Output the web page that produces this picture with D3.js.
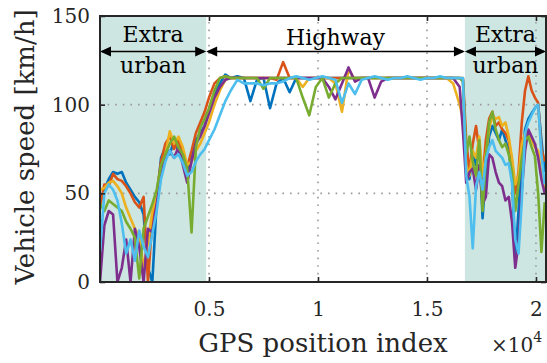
<!DOCTYPE html>
<html>
<head>
<meta charset="utf-8">
<script src="https://cdn.jsdelivr.net/npm/d3@7"></script>
<style>
  body { margin: 0; background: #fff; }
  svg { display: block; font-family: "DejaVu Serif", serif; }
</style>
</head>
<body>
<div id="chart"></div>
<script>
// GPS position index (shared by all drives)
const xIndex = [
  0, 200, 400, 600, 800, 1000, 1200, 1400, 1600, 1800, 2000, 2200, 2400, 2600, 2800, 3000,
  3200, 3400, 3600, 3800, 4000, 4200, 4400, 4600, 4800,
  5000, 5250, 5500, 5750,
  6000, 6300, 6600, 6900, 7200, 7500, 7800, 8100, 8400, 8700, 9000, 9300, 9600, 9900,
  10200, 10500, 10800, 11100, 11400, 11700, 12000, 12300, 12600, 12900, 13200, 13500,
  13800, 14100, 14400, 14700, 15000, 15300, 15600, 15900, 16200, 16500,
  16650, 16800, 16950, 17100, 17250, 17400, 17550, 17700, 17850, 18000, 18150, 18300,
  18450, 18600, 18750, 18900, 19050, 19200, 19350, 19500, 19650, 19800, 19950, 20100,
  20250, 20400
];

// vehicle speed [km/h], one array per drive
const drive1 = [
  45, 52, 58, 62, 61, 62, 56, 52, 48, 45, 38, 8, 0, 45, 70, 76, 72, 80, 74, 70, 62, 70, 80, 84, 88,
  96, 106, 112, 117,
  115, 116, 115, 102, 114, 115, 98, 112, 115, 107, 115, 115, 115, 115, 115, 115, 115, 115,
  115, 115, 115, 115, 115, 115, 115, 115, 115, 115, 115, 115, 115, 115, 115, 115, 115, 115,
  114, 70, 58, 72, 66, 78, 36, 62, 82, 88, 84, 80, 86, 80, 74, 60, 12, 40, 70, 86, 92, 95,
  98, 100, 80, 62
];
const drive2 = [
  42, 55, 54, 61, 58, 57, 54, 50, 45, 42, 48, 0, 35, 50, 68, 78, 82, 75, 80, 72, 65, 74, 84, 90, 96,
  104, 112, 115, 116,
  115, 115, 115, 115, 115, 115, 115, 114, 124, 115, 115, 115, 115, 115, 115, 115, 115, 115,
  115, 115, 115, 115, 115, 115, 115, 115, 115, 115, 115, 115, 115, 115, 115, 115, 115, 115,
  115, 80, 62, 78, 88, 74, 58, 80, 92, 96, 88, 90, 86, 84, 80, 68, 50, 62, 90, 108, 116, 108,
  104, 101, 75, 68
];
const drive3 = [
  52, 53, 56, 57, 54, 50, 42, 36, 30, 26, 8, 22, 40, 48, 64, 72, 85, 78, 82, 76, 66, 68, 74, 78, 84,
  90, 100, 108, 114,
  115, 115, 115, 115, 115, 115, 115, 115, 115, 115, 115, 110, 115, 115, 115, 115, 112, 96,
  120, 114, 115, 115, 115, 115, 115, 115, 115, 115, 115, 115, 115, 115, 115, 115, 112, 100,
  92, 66, 60, 74, 70, 82, 60, 72, 86, 94, 92, 93, 88, 90, 82, 70, 55, 60, 78, 84, 84, 80,
  76, 74, 60, 52
];
const drive4 = [
  0, 32, 40, 38, 0, 8, 24, 0, 30, 20, 0, 30, 28, 44, 60, 70, 74, 70, 76, 66, 56, 68, 78, 82, 88,
  95, 104, 110, 114,
  115, 115, 115, 115, 115, 115, 115, 115, 115, 115, 115, 115, 115, 115, 115, 110, 103, 112,
  121, 113, 115, 115, 104, 113, 115, 115, 115, 115, 115, 115, 115, 115, 115, 115, 115, 110,
  85, 56, 62, 64, 52, 66, 44, 48, 72, 70, 62, 56, 54, 46, 48, 34, 8, 22, 52, 74, 86, 82,
  78, 70, 58, 50
];
const drive5 = [
  44, 40, 46, 44, 42, 40, 34, 30, 25, 2, 30, 37, 44, 52, 66, 72, 78, 82, 76, 72, 64, 28, 76, 87, 92,
  98, 108, 115, 116,
  115, 115, 115, 115, 115, 109, 115, 115, 115, 115, 115, 104, 94, 110, 115, 104, 112, 115,
  115, 115, 115, 115, 115, 115, 115, 115, 115, 115, 115, 115, 115, 115, 115, 115, 115, 115,
  113, 72, 82, 68, 60, 80, 40, 70, 90, 96, 86, 80, 76, 78, 72, 62, 40, 55, 70, 80, 82, 76,
  71, 50, 17, 45
];
const drive6 = [
  17, 50, 55, 52, 46, 33, 16, 24, 12, 29, 20, 14, 27, 40, 58, 68, 74, 70, 72, 67, 60, 62, 68, 72, 75,
  80, 86, 94, 102,
  108, 114, 112, 112, 112, 111, 112, 112, 113, 115, 116, 115, 114, 115, 116, 115, 114, 101,
  112, 106, 114, 115, 116, 115, 114, 115, 115, 116, 115, 114, 115, 115, 116, 115, 115, 115,
  115, 60, 48, 19, 54, 62, 52, 69, 76, 80, 74, 72, 70, 66, 67, 56, 24, 16, 46, 84, 90, 94,
  98, 100, 72, 55
];
const drives = [drive1, drive2, drive3, drive4, drive5, drive6];
const driveColors = ['#0072BD', '#D95319', '#EDB120', '#7E2F8E', '#77AC30', '#4DBEEE'];

// road segments along the route
const segments = [
  { label: ['Extra', 'urban'], start: 0, end: 4870, shaded: true },
  { label: ['Highway'], start: 4870, end: 16740, shaded: false },
  { label: ['Extra', 'urban'], start: 16740, end: 20460, shaded: true }
];

const xTicks = [5000, 10000, 15000, 20000];
const yTicks = [0, 50, 100, 150];

const dims = { width: 547, height: 363 };
const margins = { left: 100, right: 1, top: 16, bottom: 81 };
const axisColor = '#262626';

const svg = d3.select('div#chart')
  .append('svg')
  .attr('width', dims.width)
  .attr('height', dims.height)
  .attr('viewBox', [0, 0, dims.width, dims.height]);

const xScale = d3.scaleLinear()
  .domain([0, 20460])
  .range([margins.left, dims.width - margins.right]);

const yScale = d3.scaleLinear()
  .domain([0, 150])
  .range([dims.height - margins.bottom, margins.top]);

const [x0, x1] = xScale.range();
const [y0, y1] = yScale.range();

svg.append('clipPath').attr('id', 'plot-clip')
  .append('rect')
  .attr('x', x0).attr('y', y1)
  .attr('width', x1 - x0).attr('height', y0 - y1);

// shaded extra urban regions
svg.append('g')
  .selectAll('rect')
  .data(segments.filter(s => s.shaded))
  .join('rect')
  .attr('x', s => xScale(s.start))
  .attr('y', y1)
  .attr('width', s => xScale(s.end) - xScale(s.start))
  .attr('height', y0 - y1)
  .attr('fill', '#cde6e1');

// dotted grid
const grid = svg.append('g')
  .attr('stroke', '#9a9a9a')
  .attr('stroke-width', 1.6)
  .attr('stroke-dasharray', '1.6,6');
grid.selectAll('line.gx')
  .data(xTicks)
  .join('line')
  .attr('class', 'gx')
  .attr('x1', d => xScale(d)).attr('x2', d => xScale(d))
  .attr('y1', y0).attr('y2', y1);
grid.selectAll('line.gy')
  .data(yTicks.filter(d => d > 0 && d < 150))
  .join('line')
  .attr('class', 'gy')
  .attr('x1', x0).attr('x2', x1)
  .attr('y1', d => yScale(d)).attr('y2', d => yScale(d));

// speed traces
const line = d3.line()
  .x((d, i) => xScale(xIndex[i]))
  .y(d => yScale(d));

svg.append('g')
  .attr('clip-path', 'url(#plot-clip)')
  .selectAll('path')
  .data(drives)
  .join('path')
  .attr('d', d => line(d))
  .attr('fill', 'none')
  .attr('stroke', (d, i) => driveColors[i])
  .attr('stroke-width', 2.6)
  .attr('stroke-linejoin', 'round');

// segment arrows and labels
const arrowY = yScale(130);
const headLen = 11, headHalf = 5;
const arrows = svg.append('g');
segments.forEach(s => {
  const a = xScale(s.start), b = xScale(s.end);
  arrows.append('line')
    .attr('x1', a + 2).attr('x2', b - 2)
    .attr('y1', arrowY).attr('y2', arrowY)
    .attr('stroke', '#000').attr('stroke-width', 1.6);
  arrows.append('path')
    .attr('d', `M${a},${arrowY}L${a + headLen},${arrowY - headHalf}L${a + headLen},${arrowY + headHalf}Z`)
    .attr('fill', '#000');
  arrows.append('path')
    .attr('d', `M${b},${arrowY}L${b - headLen},${arrowY - headHalf}L${b - headLen},${arrowY + headHalf}Z`)
    .attr('fill', '#000');
  const cx = (a + b) / 2;
  if (s.label.length == 2) {
    arrows.append('text').attr('x', cx).attr('y', 42).text(s.label[0]);
    arrows.append('text').attr('x', cx).attr('y', 73).text(s.label[1]);
  } else {
    arrows.append('text').attr('x', cx).attr('y', 45).text(s.label[0]);
  }
});
arrows.selectAll('text')
  .attr('text-anchor', 'middle')
  .attr('font-size', 22)
  .attr('fill', '#000');

// axes
const xAxis = svg.append('g')
  .attr('transform', `translate(0,${y0})`)
  .call(d3.axisBottom(xScale).tickValues(xTicks).tickSize(-5).tickPadding(20)
    .tickFormat(d => d / 1e4));
const xAxisTop = svg.append('g')
  .attr('transform', `translate(0,${y1})`)
  .call(d3.axisTop(xScale).tickValues(xTicks).tickSize(-5).tickFormat(''));
const yAxis = svg.append('g')
  .attr('transform', `translate(${x0},0)`)
  .call(d3.axisLeft(yScale).tickValues(yTicks).tickSize(-5).tickPadding(10));
const yAxisRight = svg.append('g')
  .attr('transform', `translate(${x1},0)`)
  .call(d3.axisRight(yScale).tickValues(yTicks).tickSize(-5).tickFormat(''));

[xAxis, xAxisTop, yAxis, yAxisRight].forEach(ax => {
  ax.select('.domain').remove();
  ax.selectAll('.tick line').attr('stroke', axisColor).attr('stroke-width', 1.6);
  ax.selectAll('.tick text')
    .attr('fill', axisColor)
    .attr('font-family', '"DejaVu Serif", serif')
    .attr('font-size', 20);
});

svg.append('rect')
  .attr('x', x0).attr('y', y1)
  .attr('width', x1 - x0).attr('height', y0 - y1)
  .attr('fill', 'none')
  .attr('stroke', axisColor)
  .attr('stroke-width', 2);

// exponent
svg.append('text')
  .attr('x', 491).attr('y', 352)
  .attr('font-size', 20)
  .attr('fill', axisColor)
  .text('\u00d710')
  .append('tspan')
  .attr('dy', -10)
  .attr('font-size', 14)
  .text('4');

// axis titles
svg.append('text')
  .attr('x', (x0 + x1) / 2).attr('y', 352)
  .attr('text-anchor', 'middle')
  .attr('font-size', 26)
  .attr('fill', axisColor)
  .text('GPS position index');

svg.append('text')
  .attr('transform', `translate(34,${(y0 + y1) / 2 - 2}) rotate(-90)`)
  .attr('text-anchor', 'middle')
  .attr('font-size', 26)
  .attr('fill', axisColor)
  .text('Vehicle speed [km/h]');
</script>
</body>
</html>
